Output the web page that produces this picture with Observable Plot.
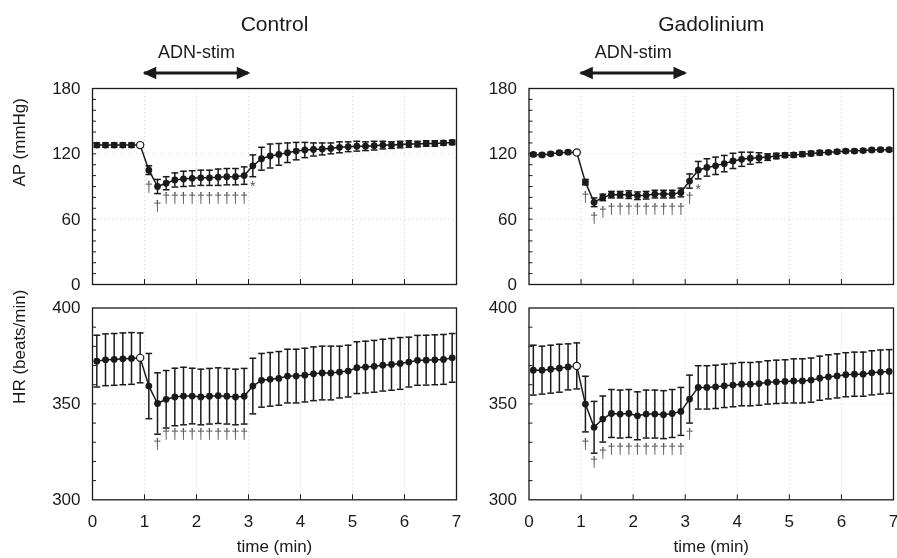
<!DOCTYPE html>
<html><head><meta charset="utf-8">
<script src="https://cdn.jsdelivr.net/npm/d3@7"></script>
<script src="https://cdn.jsdelivr.net/npm/@observablehq/plot@0.6"></script>
<style>
body{margin:0;background:#fff;}
#wrap{position:relative;width:897px;height:558px;overflow:hidden;background:#fff;}
#wrap svg{position:absolute;will-change:transform;}
</style></head><body><div id="wrap"></div>
<script>
// ---------- data ----------
const sampleSec = d3.range(5, 420, 10);           // 42 samples, every 10 s
const openIndex = 5;                              // last pre-stimulation sample (open circle)
const stim = {start: 1, end: 3, label: "ADN-stim"};
const groups = ["Control", "Gadolinium"];
const timeTicks = [0, 1, 2, 3, 4, 5, 6, 7];
const apTicks = [0, 60, 120, 180];
const hrTicks = [300, 350, 400];

const ctrlAP = [128,128,128,128,128,128, 105,90,93,96,97,97.5,98,98,98.5,99,99,100,
  109,115.5,118,119.5,121,122.5,123.5,124,124.5,125,126,126.5,127,127,127.5,128,128,128.5,129,129,129.5,129.5,130,130.5];
const ctrlAPerr = [2,2,2,2,2,2, 4,6.5,6,6.5,7,7,7,7,7.5,7.5,7.5,8,
  10,10.5,11,10,9,8,7,6,5.5,5,5,4.5,4.5,4,4,3.5,3,3,3,2.5,2.5,2.5,2,2];
const gdAP = [119.5,119,120,121,121.5,121.3, 94,75.5,80,82.5,82.5,82.5,81.5,82,83,83,83,84.5,
  95,105,107.5,109,111,113.5,115,116,116.5,117,118,118.8,119,119.7,120.3,121,121.4,122,122.5,122.5,123,123.5,123.8,123.8];
const gdAPerr = [1.5,1.5,1.5,1.5,1.5,1.5, 2.5,4,3,3,3,3.5,3.5,3.5,3.5,3.5,3.5,4,
  6.5,8,8,8,7.5,7,6.5,5.5,4.5,3,2.5,2,2,2,2,2,1.5,1.5,1.5,1.5,1.5,1.5,1.5,1.5];
const ctrlHR = [372.3,373,373.2,373.5,373.7,374, 359.3,350.2,352.4,353.6,354.1,354.1,353.6,354,354.3,354,353.6,354,
  359.3,362.3,362.8,363.3,364.5,364.5,365,365.7,366.1,366.1,366.6,367.1,368.9,369.2,369.6,370.2,370.6,371.1,371.8,372.7,372.8,373,373.2,374];
const ctrlHRerr = [13.5,13.5,13.5,13.5,13.5,13, 17,16,15,15,15,14.5,14.5,14.5,14.5,14.5,14.5,14.5,
  14.5,14,14,14,14,14,14,14,14,14,13.5,13.5,13.5,13.5,13.5,13.5,13.5,13.5,13,13,13,13,13,12.7];
const gdHR = [367.6,367.6,368.1,368.6,369.3,369.8, 349.9,337.8,342.1,345,344.7,345,343.8,344.7,344.7,344.4,345,346.1,
  352.5,358.6,358.6,358.9,359.4,359.8,360.3,360.3,360.6,361.2,361.5,361.7,362,362,362.4,363.4,364.1,364.6,365.2,365.5,365.5,366.2,366.6,366.9];
const gdHRerr = [13,12.5,12.5,12.5,12,12, 14.5,13.5,12,12.5,12.5,12.5,12.5,12.5,12.5,12.5,12.5,12.5,
  12.5,11.3,11.3,11.3,11.3,11.3,11.3,11.3,11.3,11.3,11.3,11.3,11.5,11.5,11.5,11.5,11.5,11.5,11.5,11.5,11.5,11.5,11.5,11.4];

// significance marks: sample index, symbol, level (data units)
const ctrlAPsig = [[6,"†",89],[7,"†",71.5],[8,"†",79.4],[9,"†",79.4],[10,"†",79.4],[11,"†",79.4],[12,"†",79.4],
  [13,"†",79.4],[14,"†",79.4],[15,"†",79.4],[16,"†",79.4],[17,"†",79.4],[18,"*",89.8]];
const gdAPsig = [[6,"†",80],[7,"†",60.2],[8,"†",66.3],[9,"†",69.3],[10,"†",69.3],[11,"†",69.3],[12,"†",69.3],
  [13,"†",69.3],[14,"†",69.3],[15,"†",69.3],[16,"†",69.3],[17,"†",69.3],[18,"†",79.4],[19,"*",87.6]];
const ctrlHRsig = [[7,"†",329],[8,"†",333.9],[9,"†",333.9],[10,"†",333.9],[11,"†",333.9],[12,"†",333.9],
  [13,"†",333.9],[14,"†",333.9],[15,"†",333.9],[16,"†",333.9],[17,"†",333.9]];
const gdHRsig = [[6,"†",328.8],[7,"†",319.6],[8,"†",323.9],[9,"†",326],[10,"†",326],[11,"†",326],[12,"†",326],
  [13,"†",326],[14,"†",326],[15,"†",326],[16,"†",326],[17,"†",326],[18,"†",334]];

// ---------- drawing ----------
const FONT = '"Liberation Sans", Arial, sans-serif';
const INK = "#1a1a1a";
const capSymbol = {draw(ctx, size) { const w = Math.sqrt(size) * 0.95; ctx.moveTo(-w, 0); ctx.lineTo(w, 0); }};
const headLeft = {draw(ctx) { ctx.moveTo(0, 0); ctx.lineTo(11, -5); ctx.lineTo(11, 5); ctx.closePath(); }};
const headRight = {draw(ctx) { ctx.moveTo(0, 0); ctx.lineTo(-11, -5); ctx.lineTo(-11, 5); ctx.closePath(); }};

function rowsOf(vals, errs) {
  return vals.map((v, i) => ({t: sampleSec[i] / 60, v, lo: v - errs[i], hi: v + errs[i], open: i === openIndex}));
}
function sigOf(sig) {
  return sig.map(([i, s, y]) => ({t: sampleSec[i] / 60, s, y}));
}

function panel(o) {
  const rows = rowsOf(o.vals, o.errs);
  const sig = sigOf(o.sig);
  const [y0, y1] = o.yDomain;
  const minor = d3.range(y0 + 10, y1, 10);
  const grid = {stroke: "#a0a0a0", strokeOpacity: 0.45, strokeDasharray: "1,3"};
  const marks = [
    Plot.gridX(d3.range(1, 7), grid),
    Plot.gridY(o.yTicks.slice(1, -1), grid),
    Plot.axisY(minor, {tickSize: -4, tickFormat: () => "", label: null, stroke: INK}),
    Plot.axisX(d3.range(1, 7), {tickSize: -5, tickFormat: () => "", label: null, stroke: INK}),
    Plot.axisY(o.yTicks, {tickSize: 0, tickPadding: 12, fontSize: 17, label: null, fill: INK}),
    Plot.ruleX(rows, {x: "t", y1: "lo", y2: "hi", stroke: INK, strokeWidth: 1.5}),
    Plot.dot(rows, {x: "t", y: "lo", symbol: capSymbol, r: 2, stroke: INK, strokeWidth: 1.5, fill: "none"}),
    Plot.dot(rows, {x: "t", y: "hi", symbol: capSymbol, r: 2, stroke: INK, strokeWidth: 1.5, fill: "none"}),
    Plot.line(rows, {x: "t", y: "v", stroke: INK, strokeWidth: 1.5}),
    Plot.dot(rows.filter(d => !d.open), {x: "t", y: "v", r: 3.4, fill: INK, stroke: "none"}),
    Plot.dot(rows.filter(d => d.open), {x: "t", y: "v", r: 3.6, fill: "white", stroke: INK, strokeWidth: 1.2}),
    Plot.text(sig, {x: "t", y: "y", text: "s", fontSize: 14, fill: "#555555"}),
    Plot.frame({stroke: INK, strokeWidth: 1.3})
  ];
  if (o.top) {
    marks.push(
      Plot.text([o.title], {text: d => d, frameAnchor: "top", lineAnchor: "middle", dy: -64, fontSize: 21, fill: INK}),
      Plot.text([stim], {x: d => (d.start + d.end) / 2, text: "label", frameAnchor: "top", lineAnchor: "middle", dy: -36, fontSize: 18, fill: INK}),
      Plot.ruleY([stim], {y: () => y1, x1: "start", x2: "end", dy: -15.5, stroke: INK, strokeWidth: 3}),
      Plot.dot([stim], {x: "start", y: () => y1, dy: -15.5, symbol: headLeft, fill: INK, stroke: INK}),
      Plot.dot([stim], {x: "end", y: () => y1, dy: -15.5, symbol: headRight, fill: INK, stroke: INK})
    );
  } else {
    marks.push(
      Plot.axisX(timeTicks, {tickSize: 0, tickPadding: 15, fontSize: 17, label: null, fill: INK}),
      Plot.text(["time (min)"], {text: d => d, frameAnchor: "bottom", lineAnchor: "middle", dy: 47, fontSize: 17, fill: INK})
    );
  }
  if (o.ylabel) {
    marks.push(Plot.text([o.ylabel], {text: d => d, frameAnchor: "left", dx: -73, rotate: -90, fontSize: 17, fill: INK}));
  }
  const svg = Plot.plot({
    width: o.w, height: o.h,
    marginLeft: o.ml, marginRight: o.mr, marginTop: o.mt, marginBottom: o.mb,
    style: {fontFamily: FONT, background: "transparent", overflow: "visible"},
    x: {domain: [0, 7], label: null},
    y: {domain: o.yDomain, label: null},
    marks
  });
  svg.style.left = o.left + "px";
  svg.style.top = o.topPx + "px";
  document.getElementById("wrap").appendChild(svg);
}

const L = {left: 0, w: 460, ml: 92, mr: 4};
const R = {left: 460, w: 437, ml: 68.5, mr: 4};
const T = {topPx: 0, h: 292, mt: 88, mb: 8, top: true, yDomain: [0, 180], yTicks: apTicks};
const B = {topPx: 292, h: 266, mt: 15.5, mb: 58.7, top: false, yDomain: [300, 400], yTicks: hrTicks};

panel({...L, ...T, title: groups[0], ylabel: "AP (mmHg)", vals: ctrlAP, errs: ctrlAPerr, sig: ctrlAPsig});
panel({...R, ...T, title: groups[1], vals: gdAP, errs: gdAPerr, sig: gdAPsig});
panel({...L, ...B, ylabel: "HR (beats/min)", vals: ctrlHR, errs: ctrlHRerr, sig: ctrlHRsig});
panel({...R, ...B, vals: gdHR, errs: gdHRerr, sig: gdHRsig});
</script>
</body></html>
